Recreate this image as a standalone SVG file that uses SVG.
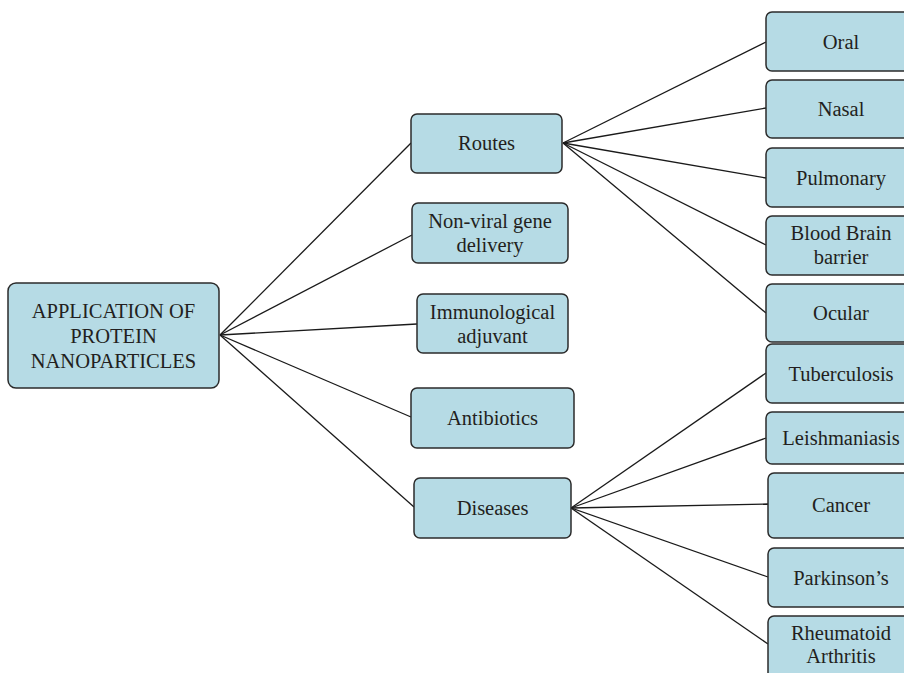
<svg xmlns="http://www.w3.org/2000/svg" width="904" height="673" viewBox="0 0 904 673">
<style>
.box{fill:#b6dbe5;stroke:#2b2b2b;stroke-width:1.5}
.t{font-family:"Liberation Serif","DejaVu Serif",serif;font-size:20.5px;fill:#231f20;text-anchor:middle}
.c{stroke:#1a1a1a;stroke-width:1.3;fill:none}
</style>
<rect width="904" height="673" fill="#ffffff"/>
<g id="connectors">
<line class="c" x1="220" y1="335" x2="411" y2="143"/>
<line class="c" x1="220" y1="335" x2="412" y2="235"/>
<line class="c" x1="220" y1="335" x2="417" y2="324"/>
<line class="c" x1="220" y1="335" x2="411" y2="417"/>
<line class="c" x1="220" y1="335" x2="414" y2="507"/>
<line class="c" x1="563" y1="143" x2="766" y2="42"/>
<line class="c" x1="563" y1="143" x2="766" y2="108"/>
<line class="c" x1="563" y1="143" x2="766" y2="178"/>
<line class="c" x1="563" y1="143" x2="766" y2="245"/>
<line class="c" x1="563" y1="143" x2="766" y2="313"/>
<line class="c" x1="571" y1="508" x2="766" y2="373"/>
<line class="c" x1="571" y1="508" x2="766" y2="438"/>
<line class="c" x1="571" y1="508" x2="768" y2="504"/>
<line class="c" x1="571" y1="508" x2="768" y2="577"/>
<line class="c" x1="571" y1="508" x2="768" y2="644"/>
</g>
<g id="root"><rect class="box" x="8" y="283" width="211" height="105" rx="8"/>
<text class="t" x="113.5" y="318">APPLICATION OF</text><text class="t" x="113.5" y="343">PROTEIN</text><text class="t" x="113.5" y="368">NANOPARTICLES</text></g>
<g id="routes"><rect class="box" x="411" y="114" width="151" height="59" rx="6"/><text class="t" x="486.5" y="150">Routes</text></g>
<g id="nonviral"><rect class="box" x="412" y="203" width="156" height="60" rx="6"/><text class="t" x="490" y="228">Non-viral gene</text><text class="t" x="490" y="252">delivery</text></g>
<g id="immuno"><rect class="box" x="417" y="294" width="151" height="59" rx="6"/><text class="t" x="492.5" y="319">Immunological</text><text class="t" x="492.5" y="343">adjuvant</text></g>
<g id="antibiotics"><rect class="box" x="411" y="388" width="163" height="60" rx="6"/><text class="t" x="492.5" y="425">Antibiotics</text></g>
<g id="diseases"><rect class="box" x="414" y="478" width="157" height="60" rx="6"/><text class="t" x="492.5" y="515">Diseases</text></g>
<g id="oral"><rect class="box" x="766" y="12" width="150" height="59" rx="6"/><text class="t" x="841" y="49">Oral</text></g>
<g id="nasal"><rect class="box" x="766" y="80" width="150" height="58" rx="6"/><text class="t" x="841" y="116">Nasal</text></g>
<g id="pulmonary"><rect class="box" x="766" y="148" width="150" height="59" rx="6"/><text class="t" x="841" y="185">Pulmonary</text></g>
<g id="bbb"><rect class="box" x="766" y="216" width="150" height="59" rx="6"/><text class="t" x="841" y="240">Blood Brain</text><text class="t" x="841" y="264">barrier</text></g>
<g id="ocular"><rect class="box" x="766" y="284" width="150" height="58" rx="6"/><text class="t" x="841" y="320">Ocular</text></g>
<g id="tuberculosis"><rect class="box" x="766" y="344" width="150" height="59" rx="6"/><text class="t" x="841" y="381">Tuberculosis</text></g>
<g id="leishmaniasis"><rect class="box" x="766" y="412" width="150" height="52" rx="6"/><text class="t" x="841" y="445">Leishmaniasis</text></g>
<g id="cancer"><rect class="box" x="768" y="473" width="150" height="65" rx="6"/><text class="t" x="841" y="512">Cancer</text></g>
<g id="parkinsons"><rect class="box" x="768" y="548" width="150" height="59" rx="6"/><text class="t" x="841" y="585">Parkinson’s</text></g>
<g id="rheumatoid"><rect class="box" x="768" y="616" width="150" height="70" rx="6"/><text class="t" x="841" y="640">Rheumatoid</text><text class="t" x="841" y="663">Arthritis</text></g>
</svg>
